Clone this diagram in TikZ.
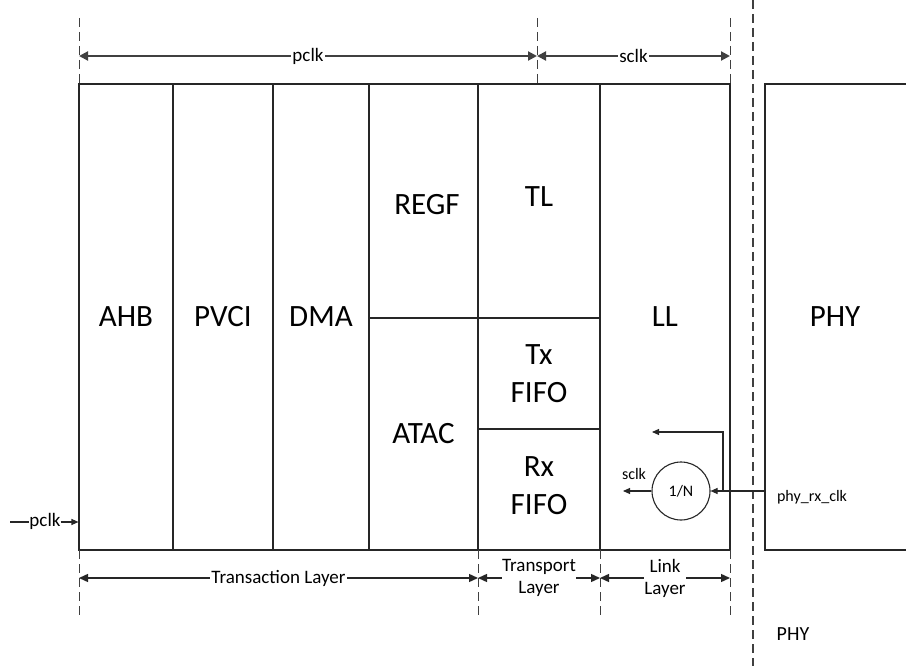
\documentclass[tikz,border=0pt]{standalone}
\usepackage{fontspec}
\setmainfont{Carlito}
\usetikzlibrary{arrows.meta}
\tikzset{
  cell/.style={draw=black!85, line width=1.1pt, rectangle, inner sep=0pt, align=center,
               font=\fontsize{31}{38}\selectfont},
  bigtxt/.style={font=\fontsize{31}{38}\selectfont, align=center, inner sep=0pt},
  smalltxt/.style={font=\fontsize{19}{22}\selectfont, align=center, inner sep=1.5pt},
  tinytxt/.style={font=\fontsize{16}{19}\selectfont, align=center, inner sep=1pt},
  guide/.style={draw=black!75, line width=1pt, dash pattern=on 9pt off 5pt},
  dimtop/.style={draw=black!75, line width=2pt,
     {Triangle[length=9pt,width=9pt]}-{Triangle[length=9pt,width=9pt]}},
  dimbot/.style={draw=black!85, line width=1.4pt,
     {Triangle[length=9pt,width=8pt]}-{Triangle[length=9pt,width=8pt]}},
  sig/.style={draw=black!85, line width=1.1pt, -{Triangle[length=7pt,width=6pt]}},
  lbl/.style={fill=white}
}
\begin{document}
\begin{tikzpicture}[x=1pt,y=-1pt]
\useasboundingbox (0,0) rectangle (906,666);

% main cells
\node[cell, minimum width=94, minimum height=466] (ahb) at (126,317) {AHB};
\node[cell, minimum width=100, minimum height=466] (pvci) at (223,317) {PVCI};
\node[cell, minimum width=96, minimum height=466] (dma) at (321,317) {DMA};
\node[cell, minimum width=109, minimum height=234] (regf) at (423.5,201) {};
\node[bigtxt] (regft) at (427,205) {REGF};
\node[cell, minimum width=109, minimum height=232] (atac) at (423.5,434) {ATAC};
\node[cell, minimum width=122, minimum height=234] (tl) at (539,201) {};
\node[bigtxt] (tlt) at (539,197) {TL};
\node[cell, minimum width=122, minimum height=111] (txf) at (539,373.5) {Tx\\FIFO};
\node[cell, minimum width=122, minimum height=121] (rxf) at (539,489.5) {};
\node[bigtxt] (rxft) at (539,485.5) {Rx\\FIFO};
\node[cell, minimum width=130, minimum height=466] (ll) at (665,317) {LL};

% PHY box (extends beyond the right edge)
\coordinate (phytr) at (910,84);
\coordinate (phybr) at (910,550);
\draw[draw=black!85, line width=1.1pt] (phytr) -| (765,550) -- (phybr);
\node[bigtxt] (phy) at (835,317) {PHY};

% PHY boundary
\coordinate (pb1) at (753,0);
\coordinate (pb2) at (753,666);
\draw[guide, line width=1.2pt] (pb1) -- (pb2);

% top clock domains
\coordinate (ta) at (79,18);  \coordinate (ta2) at (79,84);
\coordinate (tb) at (537,18); \coordinate (tb2) at (537,84);
\coordinate (tc) at (730,18); \coordinate (tc2) at (730,84);
\draw[guide] (ta) -- (ta2);
\draw[guide] (tb) -- (tb2);
\draw[guide] (tc) -- (tc2);
\coordinate (da) at (79,56);
\coordinate (db) at (537,56);
\coordinate (dc) at (730,56);
\draw[dimtop] (da) -- node[smalltxt, lbl] (pclkt) {pclk} (db);
\draw[dimtop] (db) -- node[smalltxt, lbl] (sclkt) {sclk} (dc);

% bottom layers
\coordinate (ba) at (79,550);  \coordinate (ba2) at (79,615);
\coordinate (bb) at (478,550); \coordinate (bb2) at (478,615);
\coordinate (bc) at (600,550); \coordinate (bc2) at (600,615);
\coordinate (bd) at (730,550); \coordinate (bd2) at (730,615);
\draw[guide] (ba) -- (ba2);
\draw[guide] (bb) -- (bb2);
\draw[guide] (bc) -- (bc2);
\draw[guide] (bd) -- (bd2);
\coordinate (la) at (79,578);
\coordinate (lb) at (478,578);
\coordinate (lc) at (600,578);
\coordinate (ld) at (730,578);
\draw[dimbot] (la) -- node[smalltxt, lbl] (trl) {Transaction Layer} (lb);
\draw[dimbot] (lb) -- node[smalltxt, lbl, inner sep=0pt] (tpl) {Transport\\Layer} (lc);
\draw[dimbot] (lc) -- node[smalltxt, lbl, inner sep=0pt] (lkl) {Link\\Layer} (ld);

% input pclk
\node[smalltxt, inner sep=0pt] (pclkin) at (45,521) {pclk};
\coordinate (pclkst) at (10,522);
\draw[draw=black!85, line width=1.1pt] (pclkst) -- (pclkst -| pclkin.west);
\draw[sig] (pclkin.east |- pclkst) -- (ahb.west |- pclkst);

% divider
\node[circle, draw=black!85, line width=1.1pt, minimum size=58, inner sep=0pt,
      font=\fontsize{16}{19}\selectfont] (div) at (681,491) {1/N};
\coordinate (phyin) at (765,491);
\coordinate (brn) at (723,491);
\coordinate (fbk) at (652,432);
\coordinate (sout) at (623,491);
\draw[sig] (phyin) -- (div.east);
\draw[sig] (brn) |- (fbk);
\draw[sig] (div.west) -- (sout);
\node[tinytxt] (sclkl) at (634,474) {sclk};
\node[tinytxt] (rxclk) at (812,497) {phy\_rx\_clk};
\node[smalltxt, font=\fontsize{20}{23}\selectfont] (phyl) at (793,634) {PHY};
\end{tikzpicture}
\end{document}
